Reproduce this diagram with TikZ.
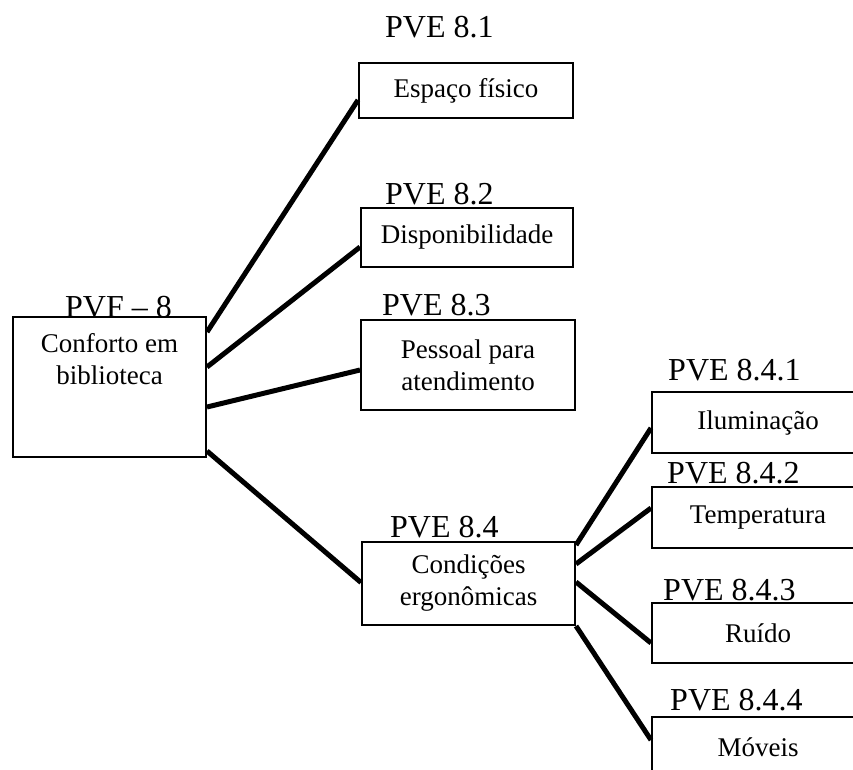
\documentclass[tikz,border=0pt]{standalone}
\usepackage{fontspec}
\setmainfont{Liberation Serif}
\usetikzlibrary{positioning}

\tikzset{
  item/.style={draw, line width=2pt, align=center, inner sep=0pt,
    font=\fontsize{27}{32}\selectfont},
  code/.style={anchor=base west, inner sep=0pt, font=\fontsize{32}{36}\selectfont},
  link/.style={line width=5pt}
}

\begin{document}
\begin{tikzpicture}[x=1pt,y=-1pt]
    \clip (0,0) rectangle (853,769);
    % the criterion
    \node[item, minimum width=193pt, minimum height=140pt,
      label={[anchor=north, inner sep=0pt, yshift=-17pt, align=center,
        font=\fontsize{27}{32}\selectfont]north:{Conforto em\\biblioteca}}] (pvf) at (109.5,387) {};
    \node[code] (pvflab) at (65,317) {PVF – 8};

    % first level
    \node[item, minimum width=214pt, minimum height=55pt] (espaco) at (466,90.5) {Espaço físico};
    \node[item, minimum width=212pt, minimum height=59pt] (disp) at (467,237.5) {Disponibilidade};
    \node[item, minimum width=214pt, minimum height=90pt] (pessoal) at (468,365) {Pessoal para\\atendimento};
    \node[item, minimum width=213pt, minimum height=83pt] (cond) at (468.5,583.5) {Condições\\ergonômicas};
    \node[code] (lab81) at (385,37) {PVE 8.1};
    \node[code] (lab82) at (385,204) {PVE 8.2};
    \node[code] (lab83) at (382,315) {PVE 8.3};
    \node[code] (lab84) at (390,537) {PVE 8.4};

    % second level
    \node[item, minimum width=212pt, minimum height=61pt] (ilum) at (758,422.5) {Iluminação};
    \node[item, minimum width=212pt, minimum height=61pt] (temp) at (758,517.5) {Temperatura};
    \node[item, minimum width=212pt, minimum height=60pt] (ruido) at (758,633) {Ruído};
    \node[item, minimum width=212pt, minimum height=60pt] (moveis) at (758,747) {Móveis};
    \node[code] (lab841) at (668,380) {PVE 8.4.1};
    \node[code] (lab842) at (667,483) {PVE 8.4.2};
    \node[code] (lab843) at (663,600) {PVE 8.4.3};
    \node[code] (lab844) at (670,710) {PVE 8.4.4};

    \draw[link] ([yshift=-16pt]pvf.north east) -- ([yshift=-9.5pt]espaco.west);
    \draw[link] ([yshift=-51pt]pvf.north east) -- ([yshift=-9.5pt]disp.west);
    \draw[link] ([yshift=-91pt]pvf.north east) -- ([yshift=-5pt]pessoal.west);
    \draw[link] ([yshift=7pt]pvf.south east) -- ([yshift=1pt]cond.west);

    \draw[link] ([yshift=-4pt]cond.north east) -- ([yshift=-5.5pt]ilum.west);
    \draw[link] ([yshift=-23pt]cond.north east) -- ([yshift=9.5pt]temp.west);
    \draw[link] ([yshift=-41pt]cond.north east) -- ([yshift=-10pt]ruido.west);
    \draw[link] (cond.south east) -- ([yshift=7pt]moveis.west);
\end{tikzpicture}
\end{document}
